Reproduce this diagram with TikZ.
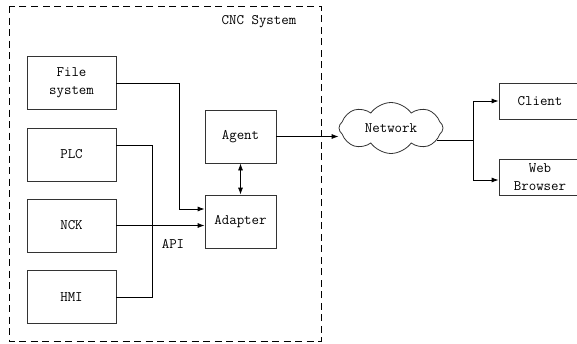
\documentclass[tikz,border=0pt]{standalone}
\usetikzlibrary{arrows.meta,shapes.symbols}

\begin{document}
\begin{tikzpicture}[x=1pt,y=-1pt,
    every node/.style={font=\ttfamily\fontsize{14.5}{18}\selectfont},
    box/.style={draw=black!80, line width=0.8pt, minimum width=89pt, minimum height=53pt, inner sep=0pt, align=center},
    sbox/.style={box, minimum width=71pt},
    obox/.style={box, minimum width=82pt, minimum height=36pt},
    link/.style={line width=0.8pt},
    arr/.style={link, -{Latex[length=7pt, width=5pt]}}]
      \useasboundingbox (0,0) rectangle (577,343);
      % CNC system frame
      \draw[link, dash pattern=on 7pt off 4.5pt] (9,6) rectangle (321,341);
      \node (cnc) at (259,22) {CNC System};
      % sources
      \node[box] (file) at (71.5,83) {File\\system};
      \node[box] (plc) at (71.5,154.5) {PLC};
      \node[box] (nck) at (71.5,225.5) {NCK};
      \node[box] (hmi) at (71.5,297) {HMI};
      \node[sbox] (agent) at (240.5,136.5) {Agent};
      \node[sbox] (adapter) at (240.5,221.5) {Adapter};
      % outside
      \node[cloud, draw=black!80, line width=0.8pt, cloud puffs=8, cloud puff arc=110, aspect=2, minimum width=104pt, minimum height=51pt, inner sep=0pt] (net) at (391,128) {Network};
      \node[obox] (client) at (540,101) {Client};
      \node[obox] (web) at (540,177) {Web\\Browser};
      \coordinate (fbend) at (179,209);
      \coordinate (bus) at (152,0);
      \coordinate (split) at (473,140);
      % links
      \draw[arr] (file.east) -| (fbend) -- (fbend -| adapter.west);
      \draw[link] ([yshift=9pt]plc.east) -- ([yshift=9pt]plc.east -| bus) -- (hmi.east -| bus) -- (hmi.east);
      \draw[arr] (nck.east) -- (nck.east -| adapter.west);
      \node (api) at (173,244) {API};
      \draw[link, {Latex[length=7pt, width=5pt]}-{Latex[length=7pt, width=5pt]}] (agent) -- (adapter);
      \draw[arr] (agent.east) -- (agent.east -| net.west);
      \draw[link] ([xshift=-6pt, yshift=-12pt]net.east) -- (split);
      \draw[arr] (split) |- (client.west);
      \draw[arr] (split) |- ([yshift=-3pt]web.west);
\end{tikzpicture}
\end{document}
